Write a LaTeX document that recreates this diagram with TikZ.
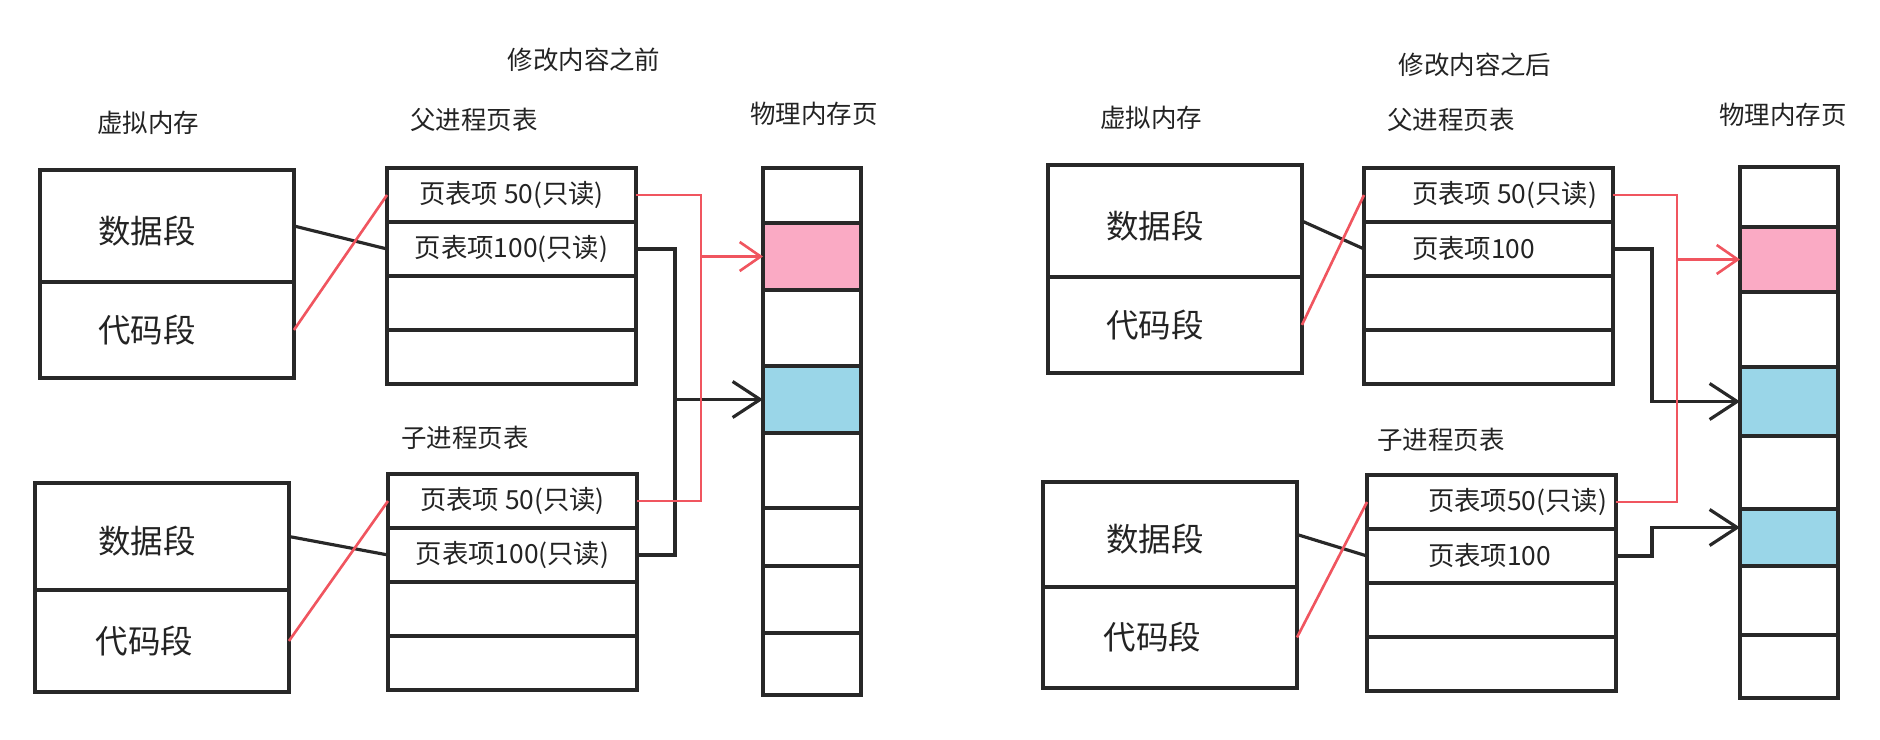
\documentclass[tikz,border=0pt]{standalone}
\usepackage{fontspec}
\setmainfont{Noto Sans CJK SC}
\usetikzlibrary{arrows.meta,positioning}
\definecolor{cowline}{RGB}{40,40,40}
\definecolor{cowred}{RGB}{240,85,95}
\definecolor{cowpink}{RGB}{250,170,196}
\definecolor{cowblue}{RGB}{154,214,232}
\definecolor{cowtext}{RGB}{35,35,35}

\begin{document}
\begin{tikzpicture}[x=0.02cm, y=-0.02cm,
  every node/.style={text=cowtext},
  head/.style={font=\fontsize{14.5}{16}\selectfont},
  seg/.style={draw=cowline, line width=1.8pt, outer sep=0pt, minimum width=5.08cm},
  segtext/.style={font=\fontsize{18.5}{20}\selectfont},
  ptrow/.style={draw=cowline, line width=1.8pt, outer sep=0pt, minimum width=4.98cm, minimum height=1.08cm, font=\fontsize{15}{16}\selectfont},
  entry/.style={anchor=west, font=\fontsize{15}{16}\selectfont},
  page/.style={draw=cowline, line width=1.8pt, outer sep=0pt, minimum width=1.96cm, anchor=north west},
  blkline/.style={draw=cowline, line width=1.8pt},
  redline/.style={draw=cowred, line width=1.5pt},
  blkarrow/.style={blkline, -{Straight Barb[length=0.55cm, width=0.72cm]}},
  redarrow/.style={redline, -{Straight Barb[length=0.42cm, width=0.58cm]}}]
  \useasboundingbox (0,0) rectangle (1880,740);

  % before the write
  \node[head] (Ltitle) at (584,60) {修改内容之前};
  \node[head] (Lvm) at (148,123) {虚拟内存};
  \node[head] (Lppt) at (474,120) {父进程页表};
  \node[head] (Lphys) at (814,114) {物理内存页};
  \node[head] (Lcpt) at (465,438) {子进程页表};

  \node[seg, minimum height=2.24cm, anchor=north west] (Lpdata) at (40,170) {};
  \node[seg, minimum height=1.92cm, below=0pt of Lpdata] (Lpcode) {};
  \node[seg, minimum height=2.14cm, anchor=north west] (Lcdata) at (35,483) {};
  \node[seg, minimum height=2.04cm, below=0pt of Lcdata] (Lccode) {};
  \node[segtext] (Lpdatat) at ([xshift=-0.4cm,yshift=-0.1cm]Lpdata.center) {数据段};
  \node[segtext] (Lpcodet) at ([xshift=-0.4cm]Lpcode.center) {代码段};
  \node[segtext] (Lcdatat) at ([xshift=-0.3cm,yshift=-0.1cm]Lcdata.center) {数据段};
  \node[segtext] (Lccodet) at ([xshift=-0.35cm]Lccode.center) {代码段};

  \node[ptrow, anchor=north west] (Lpe1) at (387,168) {页表项 50(只读)};
  \node[ptrow, below=0pt of Lpe1] (Lpe2) {页表项100(只读)};
  \node[ptrow, below=0pt of Lpe2] (Lpe3) {};
  \node[ptrow, below=0pt of Lpe3] (Lpe4) {};
  \node[ptrow, anchor=north west] (Lce1) at (388,474) {页表项 50(只读)};
  \node[ptrow, below=0pt of Lce1] (Lce2) {页表项100(只读)};
  \node[ptrow, below=0pt of Lce2] (Lce3) {};
  \node[ptrow, below=0pt of Lce3] (Lce4) {};

  \foreach \y/\h/\c [count=\i] in {168/1.10/white, 223/1.34/cowpink, 290/1.52/white, 366/1.34/cowblue,
      433/1.50/white, 508/1.16/white, 566/1.34/white, 633/1.24/white}
    \node[page, minimum height=\h cm, fill=\c] (Lpm\i) at (763,\y) {};

  \draw[blkline] (Lpdata.east) -- (Lpe2.west);
  \draw[redline] (Lpcode.east) -- (Lpe1.west);
  \draw[blkline] (Lcdata.east) -- (Lce2.west);
  \draw[redline] (Lccode.east) -- (Lce1.west);

  \coordinate (Lbx) at (675,0);
  \coordinate (Lrx) at (701,0);
  \draw[blkline] (Lpe2.east) -| (Lbx |- Lce2.east) -- (Lce2.east);
  \draw[blkarrow] (Lbx |- Lpm4.west) -- (Lpm4.west);
  \draw[redline] (Lpe1.east) -| (Lrx |- Lce1.east) -- (Lce1.east);
  \draw[redarrow] (Lrx |- Lpm2.west) -- (Lpm2.west);

  % after the write
  \node[head] (Rtitle) at (1475,65) {修改内容之后};
  \node[head] (Rvm) at (1151,118) {虚拟内存};
  \node[head] (Rppt) at (1451,120) {父进程页表};
  \node[head] (Rphys) at (1783,115) {物理内存页};
  \node[head] (Rcpt) at (1441,440) {子进程页表};

  \node[seg, minimum height=2.24cm, anchor=north west] (Rpdata) at (1048,165) {};
  \node[seg, minimum height=1.92cm, below=0pt of Rpdata] (Rpcode) {};
  \node[seg, minimum height=2.10cm, anchor=north west] (Rcdata) at (1043,482) {};
  \node[seg, minimum height=2.02cm, below=0pt of Rcdata] (Rccode) {};
  \node[segtext] (Rpdatat) at ([xshift=-0.4cm,yshift=-0.1cm]Rpdata.center) {数据段};
  \node[segtext] (Rpcodet) at ([xshift=-0.4cm]Rpcode.center) {代码段};
  \node[segtext] (Rcdatat) at ([xshift=-0.3cm,yshift=-0.1cm]Rcdata.center) {数据段};
  \node[segtext] (Rccodet) at ([xshift=-0.35cm]Rccode.center) {代码段};

  \node[ptrow, anchor=north west] (Rpe1) at (1364,168) {};
  \node[ptrow, below=0pt of Rpe1] (Rpe2) {};
  \node[ptrow, below=0pt of Rpe2] (Rpe3) {};
  \node[ptrow, below=0pt of Rpe3] (Rpe4) {};
  \node[ptrow, anchor=north west] (Rce1) at (1367,475) {};
  \node[ptrow, below=0pt of Rce1] (Rce2) {};
  \node[ptrow, below=0pt of Rce2] (Rce3) {};
  \node[ptrow, below=0pt of Rce3] (Rce4) {};
  \node[entry] (Rpe1t) at ([xshift=0.84cm]Rpe1.west) {页表项 50(只读)};
  \node[entry] (Rpe2t) at ([xshift=0.84cm]Rpe2.west) {页表项100};
  \node[entry] (Rce1t) at ([xshift=1.1cm]Rce1.west) {页表项50(只读)};
  \node[entry] (Rce2t) at ([xshift=1.1cm]Rce2.west) {页表项100};

  \foreach \y/\h/\c [count=\i] in {167/1.20/white, 227/1.30/cowpink, 292/1.50/white, 367/1.38/cowblue,
      436/1.46/white, 509/1.14/cowblue, 566/1.38/white, 635/1.26/white}
    \node[page, minimum height=\h cm, fill=\c] (Rpm\i) at (1740,\y) {};

  \draw[blkline] (Rpdata.east) -- (Rpe2.west);
  \draw[redline] (Rpcode.east) -- (Rpe1.west);
  \draw[blkline] (Rcdata.east) -- (Rce2.west);
  \draw[redline] (Rccode.east) -- (Rce1.west);

  \coordinate (Rbx) at (1652,0);
  \coordinate (Rrx) at (1677,0);
  \coordinate (Rin6) at ([yshift=0.2cm]Rpm6.west);
  \draw[blkarrow] (Rpe2.east) -| (Rbx |- Rpm4.west) -- (Rpm4.west);
  \draw[blkarrow] (Rce2.east) -| (Rbx |- Rin6) -- (Rin6);
  \draw[redline] (Rpe1.east) -| (Rrx |- Rce1.east) -- (Rce1.east);
  \draw[redarrow] (Rrx |- Rpm2.west) -- (Rpm2.west);
\end{tikzpicture}
\end{document}
